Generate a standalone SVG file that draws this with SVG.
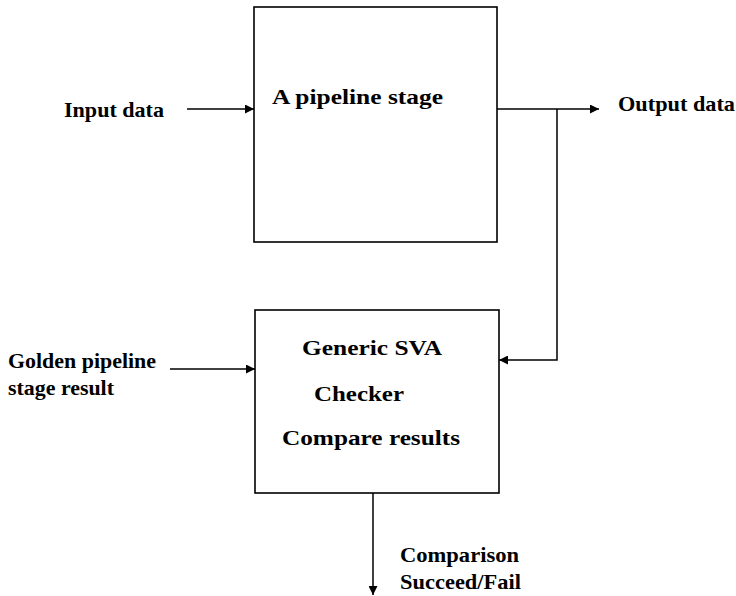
<svg xmlns="http://www.w3.org/2000/svg" width="736" height="596" viewBox="0 0 736 596">
<defs>
<style>
.box{fill:#fff;stroke:#000;stroke-width:1.6}
.ln{fill:none;stroke:#000;stroke-width:1.5}
.t{font-family:"Liberation Serif","Times New Roman",serif;font-weight:bold;font-size:22px;fill:#000}
</style>
<marker id="ah" viewBox="0 0 10 10" refX="10" refY="5" markerWidth="11" markerHeight="9" markerUnits="userSpaceOnUse" orient="auto">
<path d="M0,0 L10,5 L0,10 Z" fill="#000"/>
</marker>
</defs>
<rect width="736" height="596" fill="#fff"/>
<g id="stage">
<rect class="box" x="254" y="7" width="243" height="235"/>
<text class="t" x="272" y="104" textLength="171" lengthAdjust="spacingAndGlyphs">A pipeline stage</text>
</g>
<g id="checker">
<rect class="box" x="255" y="310" width="244" height="183"/>
<text class="t" x="302" y="355" textLength="140" lengthAdjust="spacingAndGlyphs">Generic SVA</text>
<text class="t" x="314" y="401" textLength="90" lengthAdjust="spacingAndGlyphs">Checker</text>
<text class="t" x="282" y="445" textLength="178" lengthAdjust="spacingAndGlyphs">Compare results</text>
</g>
<g id="labels">
<text class="t" x="64" y="117" textLength="100" lengthAdjust="spacingAndGlyphs">Input data</text>
<text class="t" x="618" y="111" textLength="117" lengthAdjust="spacingAndGlyphs">Output data</text>
<text class="t" x="8" y="368" textLength="148" lengthAdjust="spacingAndGlyphs">Golden pipeline</text>
<text class="t" x="8" y="395" textLength="106" lengthAdjust="spacingAndGlyphs">stage result</text>
<text class="t" x="400" y="562" textLength="119" lengthAdjust="spacingAndGlyphs">Comparison</text>
<text class="t" x="400" y="589" textLength="121" lengthAdjust="spacingAndGlyphs">Succeed/Fail</text>
</g>
<g id="connectors">
<path class="ln" d="M187,109 H254" marker-end="url(#ah)"/>
<path class="ln" d="M497,109 H599" marker-end="url(#ah)"/>
<path class="ln" d="M557,109 V360 H499" marker-end="url(#ah)"/>
<path class="ln" d="M170,369 H255" marker-end="url(#ah)"/>
<path class="ln" d="M373,493 V595" marker-end="url(#ah)"/>
</g>
</svg>
